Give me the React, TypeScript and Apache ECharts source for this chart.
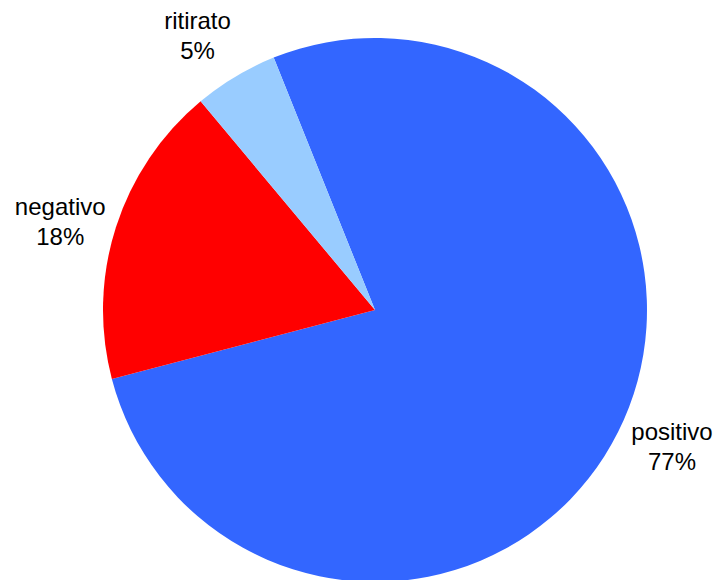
import React, { useEffect, useRef } from "react";
import * as echarts from "echarts";

const categories = ["positivo", "negativo", "ritirato"];
const values = [77, 18, 5];
const colors = ["#3366FF", "#FF0000", "#99CCFF"];

const START_ANGLE = 111.87;
const CENTER = [375, 310];
const RADIUS = 272;
const LABEL_RADIUS = 327;
const LABEL_ANGLE_SHIFT = 2;

export default function App() {
  const ref = useRef<HTMLDivElement>(null);
  useEffect(() => {
    if (!ref.current) return;
    const chart = echarts.init(ref.current, null, { renderer: "svg" });
    const total = values.reduce((a, b) => a + b, 0);
    const midAngles: number[] = [];
    let acc = START_ANGLE;
    values.forEach((v) => {
      const span = (v / total) * 360;
      midAngles.push(acc - span / 2);
      acc -= span;
    });
    chart.setOption({
      animation: false,
      backgroundColor: "#ffffff",
      series: [
        {
          type: "pie",
          center: CENTER,
          radius: RADIUS,
          startAngle: START_ANGLE,
          clockwise: true,
          avoidLabelOverlap: false,
          data: categories.map((name, i) => ({
            name,
            value: values[i],
            itemStyle: { color: colors[i] },
          })),
          itemStyle: { borderWidth: 0 },
          label: {
            show: true,
            position: "outside",
            formatter: (p: any) => `${p.name}\n${Math.round(p.percent)}%`,
            fontFamily: "Liberation Sans, Arial, sans-serif",
            fontSize: 24,
            lineHeight: 30,
            color: "#000000",
            align: "center",
          },
          labelLine: { show: false },
          labelLayout: (params: any) => {
            const a = ((midAngles[params.dataIndex] + LABEL_ANGLE_SHIFT) * Math.PI) / 180;
            return {
              x: CENTER[0] + LABEL_RADIUS * Math.cos(a),
              y: CENTER[1] - LABEL_RADIUS * Math.sin(a),
              align: "center",
              verticalAlign: "middle",
            };
          },
          emphasis: { disabled: true },
        },
      ],
    });
    return () => chart.dispose();
  }, []);
  return (
    <div
      ref={ref}
      style={{ position: "fixed", left: 0, top: 0, width: 716, height: 580 }}
    />
  );
}
